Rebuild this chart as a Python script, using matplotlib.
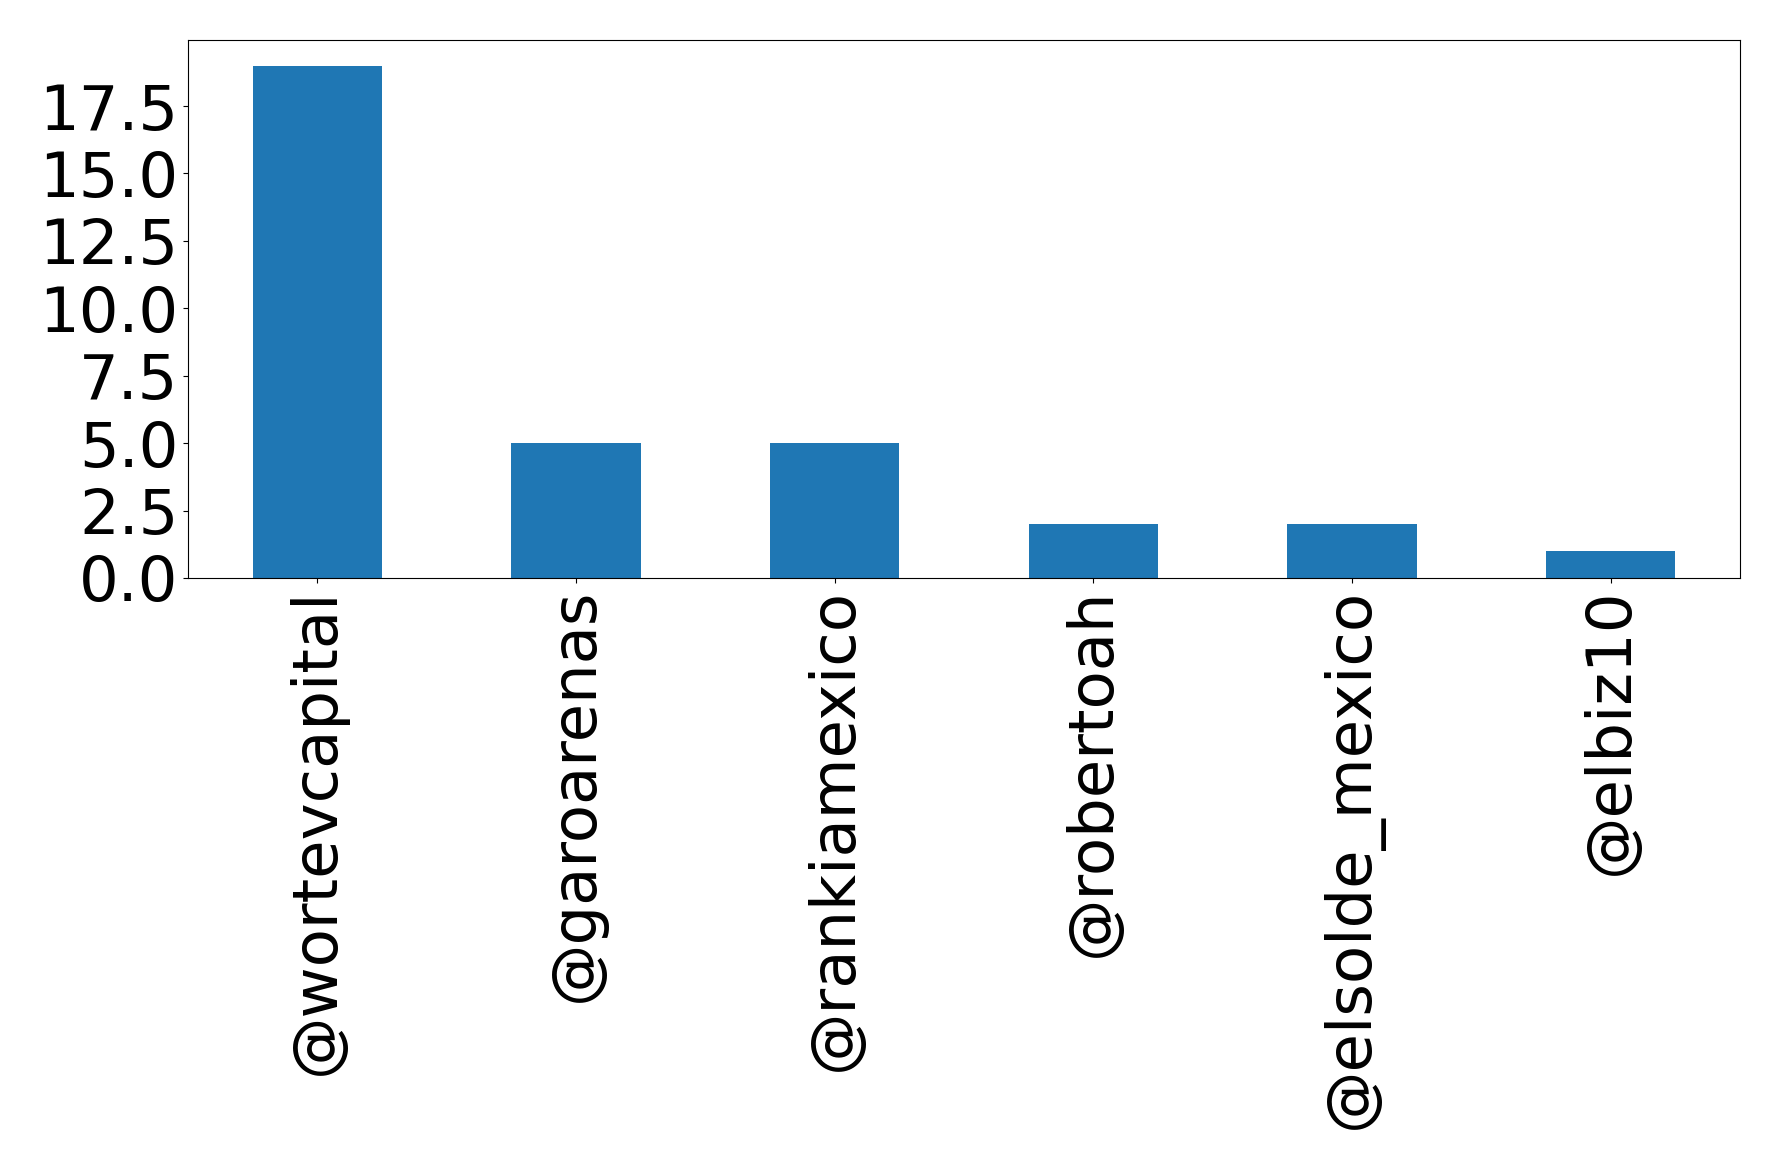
import matplotlib
matplotlib.use('Agg')
import matplotlib.pyplot as plt
from matplotlib.ticker import MultipleLocator, FormatStrFormatter
import pandas as pd

# usuarios mas mencionados
users = ['@wortevcapital', '@garoarenas', '@rankiamexico', '@robertoah',
         '@elsolde_mexico', '@elbiz10']
counts = [19, 5, 5, 2, 2, 1]

s = pd.Series(counts, index=users)

fig = plt.figure(figsize=(17.78, 11.69), dpi=100)
ax = fig.add_axes([188 / 1778, 1 - 578 / 1169, (1740 - 188) / 1778, (578 - 40) / 1169])
s.plot(kind='bar', ax=ax, color='#1f77b4', width=0.5)
ax.yaxis.set_major_locator(MultipleLocator(2.5))
ax.yaxis.set_major_formatter(FormatStrFormatter('%.1f'))
ax.tick_params(axis='both', labelsize=45)
plt.setp(ax.get_xticklabels(), rotation=90)

fig.savefig('out.png', dpi=100)
